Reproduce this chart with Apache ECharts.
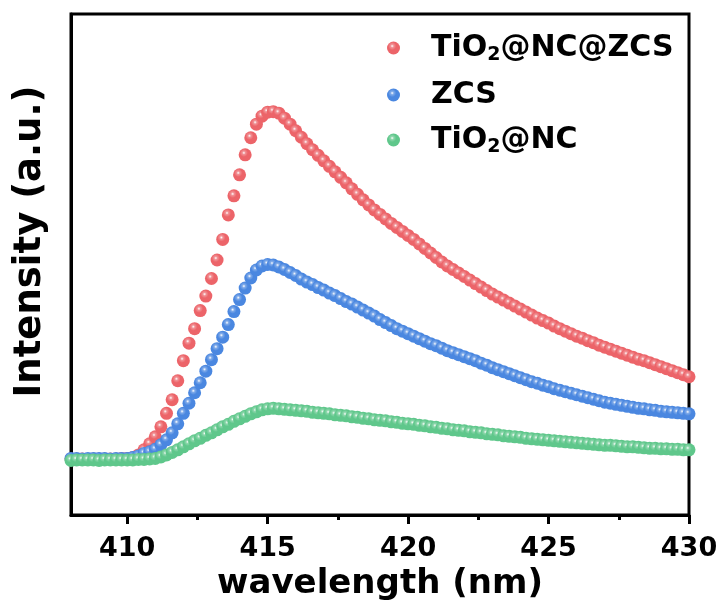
<!DOCTYPE html>
<html>
<head>
<meta charset="utf-8">
<script src="https://cdn.jsdelivr.net/npm/echarts@6/dist/echarts.min.js"></script>
<style>
  html, body { margin: 0; padding: 0; background: #fff; }
  #pl-chart { width: 721px; height: 607px; }
</style>
</head>
<body>
<div id="pl-chart"></div>
<script>
var wavelength = [
  408.0, 408.2, 408.4, 408.6, 408.8, 409.0, 409.2, 409.4, 409.6, 409.8,
  410.0, 410.2, 410.4, 410.6, 410.8, 411.0, 411.2, 411.4, 411.6, 411.8,
  412.0, 412.2, 412.4, 412.6, 412.8, 413.0, 413.2, 413.4, 413.6, 413.8,
  414.0, 414.2, 414.4, 414.6, 414.8, 415.0, 415.2, 415.4, 415.6, 415.8,
  416.0, 416.2, 416.4, 416.6, 416.8, 417.0, 417.2, 417.4, 417.6, 417.8,
  418.0, 418.2, 418.4, 418.6, 418.8, 419.0, 419.2, 419.4, 419.6, 419.8,
  420.0, 420.2, 420.4, 420.6, 420.8, 421.0, 421.2, 421.4, 421.6, 421.8,
  422.0, 422.2, 422.4, 422.6, 422.8, 423.0, 423.2, 423.4, 423.6, 423.8,
  424.0, 424.2, 424.4, 424.6, 424.8, 425.0, 425.2, 425.4, 425.6, 425.8,
  426.0, 426.2, 426.4, 426.6, 426.8, 427.0, 427.2, 427.4, 427.6, 427.8,
  428.0, 428.2, 428.4, 428.6, 428.8, 429.0, 429.2, 429.4, 429.6, 429.8,
  430.0
];

// TiO2@NC@ZCS
var tncZcs = [
  11.2, 11.2, 11.2, 11.1, 11.2, 11.2, 11.2, 11.2, 11.2, 11.3,
  11.3, 11.5, 12.0, 13.0, 14.2, 15.6, 17.6, 20.3, 23.0, 26.8,
  30.8, 34.3, 37.2, 40.8, 43.7, 47.2, 50.9, 55.0, 59.9, 63.7,
  67.9, 71.9, 75.3, 78.0, 79.6, 80.4, 80.5, 80.2, 79.2, 78.0,
  76.7, 75.4, 74.1, 72.9, 71.8, 70.7, 69.6, 68.5, 67.4, 66.3,
  65.1, 64.0, 62.9, 61.9, 60.9, 60.0, 59.1, 58.2, 57.4, 56.6,
  55.8, 55.0, 54.1, 53.2, 52.3, 51.4, 50.5, 49.7, 49.0, 48.3,
  47.6, 46.9, 46.2, 45.5, 44.8, 44.1, 43.5, 42.9, 42.3, 41.7,
  41.1, 40.5, 39.9, 39.3, 38.8, 38.3, 37.7, 37.2, 36.7, 36.2,
  35.7, 35.3, 34.8, 34.4, 33.9, 33.5, 33.1, 32.7, 32.3, 31.9,
  31.5, 31.1, 30.8, 30.4, 30.0, 29.6, 29.2, 28.8, 28.4, 28.0,
  27.6
];

// ZCS
var zcs = [
  11.3, 11.3, 11.2, 11.3, 11.3, 11.3, 11.3, 11.2, 11.3, 11.3,
  11.3, 11.5, 11.8, 12.3, 12.6, 13.1, 14.0, 15.0, 16.4, 18.2,
  20.3, 22.3, 24.4, 26.4, 28.7, 31.0, 33.2, 35.5, 38.0, 40.6,
  43.0, 45.3, 47.3, 48.9, 49.7, 50.0, 49.9, 49.5, 49.0, 48.4,
  47.8, 47.1, 46.5, 46.0, 45.4, 44.9, 44.3, 43.8, 43.2, 42.6,
  42.1, 41.5, 40.9, 40.3, 39.7, 39.0, 38.4, 37.8, 37.2, 36.7,
  36.2, 35.7, 35.2, 34.7, 34.2, 33.8, 33.3, 32.8, 32.4, 32.0,
  31.6, 31.2, 30.8, 30.3, 29.9, 29.4, 29.0, 28.6, 28.2, 27.8,
  27.4, 27.0, 26.6, 26.3, 25.9, 25.6, 25.2, 24.9, 24.6, 24.3,
  24.0, 23.7, 23.4, 23.1, 22.8, 22.5, 22.3, 22.1, 21.9, 21.7,
  21.5, 21.3, 21.2, 21.0, 20.9, 20.7, 20.6, 20.5, 20.4, 20.3,
  20.2
];

// TiO2@NC
var tnc = [
  10.9, 11.0, 11.0, 11.0, 11.0, 10.9, 11.0, 11.0, 11.0, 11.0,
  11.0, 11.0, 11.1, 11.1, 11.2, 11.3, 11.6, 12.0, 12.5, 13.0,
  13.6, 14.2, 14.8, 15.3, 15.9, 16.4, 17.0, 17.6, 18.1, 18.7,
  19.2, 19.7, 20.2, 20.6, 21.0, 21.2, 21.3, 21.2, 21.1, 21.0,
  20.9, 20.8, 20.7, 20.5, 20.4, 20.3, 20.2, 20.0, 19.9, 19.8,
  19.6, 19.5, 19.3, 19.2, 19.0, 18.9, 18.8, 18.6, 18.5, 18.3,
  18.2, 18.1, 17.9, 17.8, 17.6, 17.5, 17.3, 17.2, 17.0, 16.9,
  16.8, 16.6, 16.5, 16.4, 16.2, 16.1, 16.0, 15.8, 15.7, 15.6,
  15.5, 15.3, 15.2, 15.1, 15.0, 14.9, 14.8, 14.7, 14.6, 14.5,
  14.4, 14.3, 14.2, 14.1, 14.0, 13.9, 13.9, 13.8, 13.7, 13.6,
  13.6, 13.5, 13.4, 13.3, 13.3, 13.2, 13.2, 13.1, 13.1, 13.0,
  13.0
];

var seriesNames = ['TiO₂@NC@ZCS', 'ZCS', 'TiO₂@NC'];
var seriesColors = ['#ec6469', '#4a87e0', '#5fc78b'];
var majorTicks = [410, 415, 420, 425, 430];
var minorTicks = [412.5, 417.5, 422.5, 427.5];

var fontName = 'DejaVu Sans';

function ball(color) {
  // shiny sphere look of the markers, small highlight top-left
  return new echarts.graphic.RadialGradient(0.4, 0.35, 0.62, [
    { offset: 0, color: 'rgba(255,255,255,0.95)' },
    { offset: 0.2, color: echarts.color.lift(color, 0.3) },
    { offset: 0.5, color: color },
    { offset: 1, color: color }
  ]);
}

function pairs(ys) {
  return wavelength.map(function (x, i) { return [x, ys[i]]; });
}

var allData = [tncZcs, zcs, tnc];

var myChart = echarts.init(document.getElementById('pl-chart'));
var option = {
  animation: false,
  grid: {
    left: 71, right: 32, top: 14, bottom: 92,
    outerBoundsMode: 'none',
    containLabel: false,
    show: true, borderColor: '#000', borderWidth: 3
  },
  legend: {
    orient: 'vertical',
    left: 382,
    top: 28,
    itemWidth: 13,
    itemHeight: 13,
    itemGap: 15,
    selectedMode: false,
    data: seriesNames,
    formatter: function (name) {
      return '{a|' + name.replace('₂', '}{s|2}{a|') + '}';
    },
    textStyle: {
      padding: [0, 0, 0, 26],
      rich: {
        a: { fontFamily: fontName, fontWeight: 'bold', fontSize: 30, color: '#000', lineHeight: 34 },
        s: { fontFamily: fontName, fontWeight: 'bold', fontSize: 19, color: '#000', lineHeight: 14, verticalAlign: 'bottom' }
      }
    }
  },
  xAxis: [{
    type: 'value',
    min: 408,
    max: 430,
    name: 'wavelength (nm)',
    nameLocation: 'middle',
    nameGap: 39,
    nameTextStyle: { fontFamily: fontName, fontWeight: 'bold', fontSize: 34, color: '#000' },
    splitLine: { show: false },
    axisLine: { lineStyle: { color: '#000', width: 3 } },
    axisTick: { customValues: majorTicks, length: 9, lineStyle: { color: '#000', width: 3 } },
    axisLabel: {
      customValues: majorTicks,
      margin: 20,
      fontFamily: fontName, fontWeight: 'bold', fontSize: 27, color: '#000'
    }
  }, {
    type: 'value',
    min: 408,
    max: 430,
    position: 'bottom',
    splitLine: { show: false },
    axisLine: { show: false },
    axisTick: { customValues: minorTicks, length: 5, lineStyle: { color: '#000', width: 3 } },
    axisLabel: { show: false }
  }],
  yAxis: {
    type: 'value',
    min: 0,
    max: 100,
    name: 'Intensity (a.u.)',
    nameLocation: 'middle',
    nameGap: 22,
    nameTextStyle: {
      fontFamily: fontName, fontWeight: 'bold', fontSize: 37, color: '#000',
      padding: [0, 0, 0, 46]
    },
    splitLine: { show: false },
    axisLine: { show: true, lineStyle: { color: '#000', width: 3 } },
    axisTick: { show: false },
    axisLabel: { show: false }
  },
  series: seriesNames.map(function (name, k) {
    return {
      name: name,
      type: 'scatter',
      clip: false,
      symbol: 'circle',
      symbolSize: 13,
      itemStyle: { color: ball(seriesColors[k]), opacity: 1 },
      data: pairs(allData[k])
    };
  })
};
myChart.setOption(option);
</script>
</body>
</html>
